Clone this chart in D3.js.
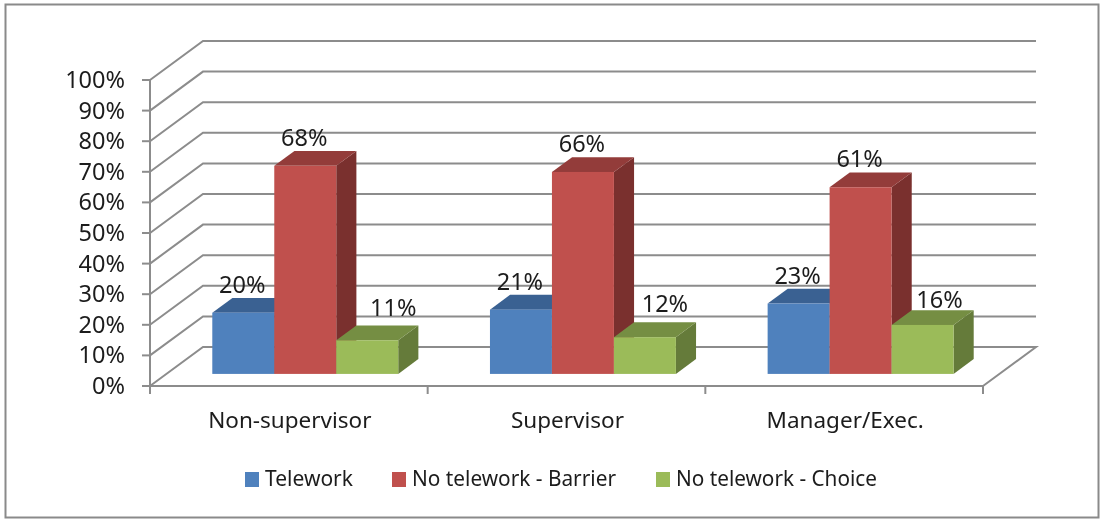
<!DOCTYPE html>
<html><head><meta charset="utf-8">
<script src="https://cdn.jsdelivr.net/npm/d3@7"></script>
<style>
html,body{margin:0;padding:0;background:#fff}
svg{display:block;filter:blur(0.5px)}
text{font-family:"Noto Sans",sans-serif;fill:#1c1c1c}
</style></head><body>
<svg id="c" width="1104" height="519"></svg>
<script>
const categories = ["Non-supervisor","Supervisor","Manager/Exec."];
const seriesNames = ["Telework","No telework - Barrier","No telework - Choice"];
const telework = [20,21,23];
const barrier = [68,66,61];
const choice = [11,12,16];
const tickLabels = [0,10,20,30,40,50,60,70,80,90,100];
const seriesValues = [telework,barrier,choice];

const front = "#4F81BD,#C0504D,#9BBB59".split(",");
const top_ = "#3A6192,#933C3A,#758E43".split(",");
const side = "#335680,#7A302E,#657B3A".split(",");

const grid="#8c8c8c";
const svg=d3.select("#c");
const x=d3.scaleBand().domain(categories).range([150,983]);
const y=d3.scaleLinear().domain([0,100]).range([386,80]);
const inner=d3.scaleBand().domain(seriesNames).range([0,x.bandwidth()]).paddingOuter(0.74);
const depth=d3.scaleLinear().domain([0,1]);
const dx=depth.copy().range([0,53]), dy=depth.copy().range([0,-39]);
const zFront=0.31, zBack=0.69;
const base=y(0)+dy(zFront);

svg.append("rect").attr("x",5.5).attr("y",4.5).attr("width",1093).attr("height",513)
  .attr("fill","#fff").attr("stroke","#8a8a8a").attr("stroke-width",2);

const line=d3.line();
svg.append("g").selectAll("path").data(tickLabels).join("path")
  .attr("fill","none").attr("stroke",grid).attr("stroke-width",2)
  .attr("d",t=>{
    const p=[[x.range()[0],y(t)],[x.range()[0]+dx(1),y(t)+dy(1)],[x.range()[1]+dx(1),y(t)+dy(1)]];
    if(t===0)p.push([x.range()[1],y(t)]);
    return line(p);
  });
const g=svg.append("g").attr("stroke",grid).attr("stroke-width",2);
g.append("line").attr("x1",150).attr("x2",150).attr("y1",y(100)).attr("y2",394);
g.append("line").attr("x1",150).attr("x2",983).attr("y1",y(0)).attr("y2",y(0));
g.selectAll(".ty").data(tickLabels).join("line").attr("x1",142).attr("x2",150).attr("y1",d=>y(d)).attr("y2",d=>y(d));
const xt=[...categories.map(c=>x(c)),x.range()[1]];
g.selectAll(".tx").data(xt).join("line").attr("x1",d=>d).attr("x2",d=>d).attr("y1",y(0)).attr("y2",394);

svg.append("g").selectAll("text").data(tickLabels).join("text")
  .attr("x",125).attr("y",d=>y(d)+8).attr("text-anchor","end").attr("font-size",23.5).text(d=>d+"%");

categories.forEach((c,ci)=>{
  seriesNames.forEach((s,si)=>{
    const v=seriesValues[si][ci];
    const x0=x(c)+inner(s)+dx(zFront), x1=x0+inner.bandwidth();
    const yt=y(v)+dy(zFront);
    const ox=dx(zBack)-dx(zFront), oy=dy(zBack)-dy(zFront);
    const gb=svg.append("g");
    gb.append("path").attr("fill",side[si]).attr("d",line([[x1,yt],[x1+ox,yt+oy],[x1+ox,base+oy],[x1,base]])+"Z");
    gb.append("path").attr("fill",top_[si]).attr("d",line([[x0,yt],[x0+ox,yt+oy],[x1+ox,yt+oy],[x1,yt]])+"Z");
    gb.append("rect").attr("x",x0).attr("y",yt).attr("width",x1-x0).attr("height",base-yt).attr("fill",front[si]);
  });
});

// hand placement of the green bars' data labels, per category
const greenLabelShift=[[26,24],[20,25],[17,17]];
categories.forEach((c,ci)=>{
  seriesNames.forEach((s,si)=>{
    const v=seriesValues[si][ci];
    const cx=x(c)+inner(s)+dx(zFront)+inner.bandwidth()/2;
    const [sx,sy]=si===2?greenLabelShift[ci]:[-1,20];
    svg.append("text").attr("x",cx+sx).attr("y",y(v)+dy(zFront)-sy)
      .attr("text-anchor","middle").attr("font-size",23.5).text(v+"%");
  });
});

svg.append("g").selectAll("text").data(categories).join("text")
  .attr("x",d=>x(d)+x.bandwidth()/2+1).attr("y",428).attr("text-anchor","middle")
  .attr("font-size",22.5).text(d=>d);

const legendX=[245,392,656], legendW=[88,204,201];
const lg=svg.append("g").selectAll("g").data(seriesNames).join("g");
lg.append("rect").attr("x",(d,i)=>legendX[i]).attr("y",472).attr("width",14).attr("height",15)
  .attr("fill",(d,i)=>front[i]);
lg.append("text").attr("x",(d,i)=>legendX[i]+20).attr("y",486).attr("font-size",21)
  .attr("textLength",(d,i)=>legendW[i]).attr("lengthAdjust","spacingAndGlyphs").text(d=>d);
</script>
</body></html>
